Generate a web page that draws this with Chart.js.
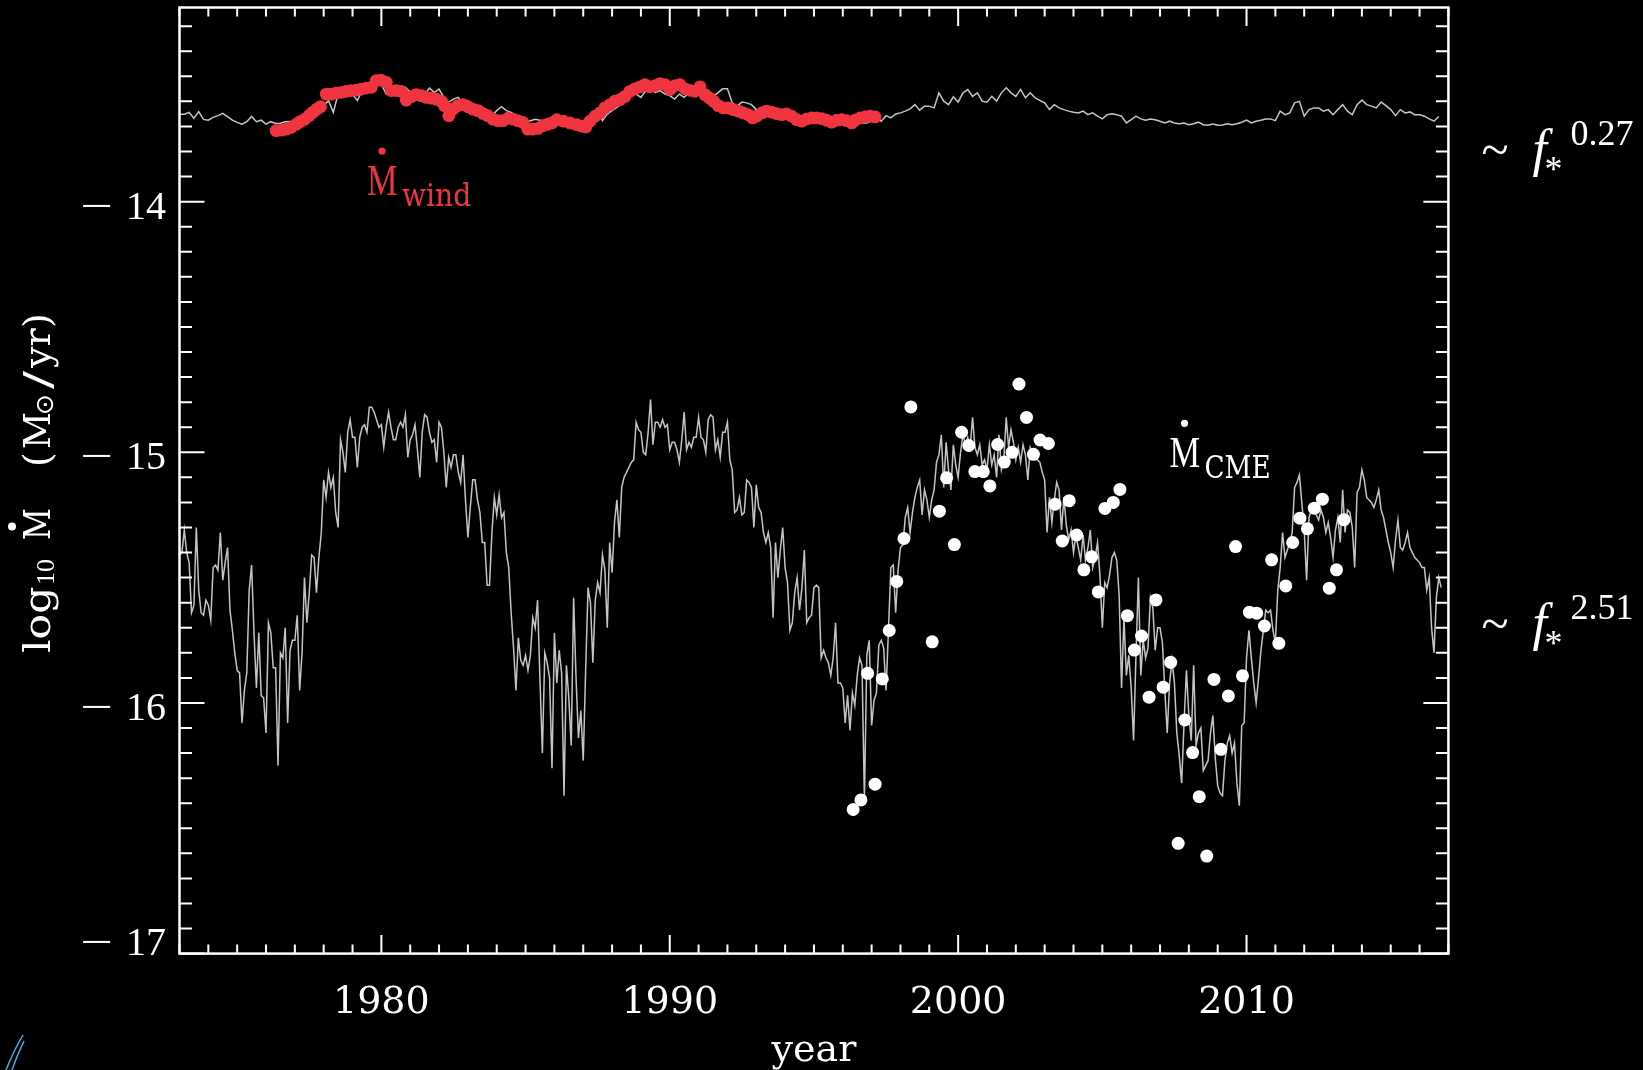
<!DOCTYPE html>
<html>
<head>
<meta charset="utf-8">
<script src="https://cdn.jsdelivr.net/npm/chart.js@4.4.1/dist/chart.umd.min.js"></script>
<style>
html,body{margin:0;padding:0;background:#000;overflow:hidden}
canvas{display:block}
</style>
</head>
<body>
<canvas id="c" width="1643" height="1070"></canvas>
<script>
// ---------------- axis ranges / ticks ----------------
const xRange = [1973, 2017];
const yRange = [-17, -13.2255];
const xMajorTicks = [1980, 1990, 2000, 2010];
const yMajorTicks = [-14, -15, -16, -17];
const xMinorStep = 1;     // years
const yMinorStep = 0.1;   // dex

// ---------------- model line for CME mass loss (~ f*^2.51), monthly from 1973.0 ----------------
const cmeModelStart = 1973;
const cmeModelStep = 1 / 12;
const cmeModel = [
 -15.41,-15.40,-15.31,-15.40,-15.44,-15.64,-15.61,-15.30,-15.55,-15.64,-15.65,-15.59, // 1973
 -15.61,-15.67,-15.46,-15.45,-15.47,-15.32,-15.51,-15.44,-15.38,-15.63,-15.71,-15.80, // 1974
 -15.87,-15.88,-16.08,-15.95,-15.88,-15.55,-15.45,-15.72,-15.94,-15.72,-15.97,-15.98, // 1975
 -16.12,-15.68,-15.72,-15.86,-15.86,-16.25,-15.80,-15.82,-15.70,-16.08,-15.79,-15.75, // 1976
 -15.75,-15.65,-15.95,-15.80,-15.50,-15.68,-15.56,-15.41,-15.42,-15.56,-15.42,-15.32, // 1977
 -15.11,-15.18,-15.08,-15.14,-15.10,-15.24,-15.30,-14.95,-15.00,-15.08,-14.92,-14.87, // 1978
 -14.94,-14.94,-15.06,-14.94,-14.90,-14.89,-14.92,-14.82,-14.82,-14.84,-14.87,-14.90, // 1979
 -14.89,-14.98,-14.90,-14.84,-14.90,-14.95,-14.95,-14.90,-14.88,-14.90,-14.85,-15.02, // 1980
 -14.95,-14.93,-14.89,-14.99,-15.10,-14.92,-14.85,-14.86,-14.92,-14.96,-14.95,-15.04, // 1981
 -14.88,-14.90,-15.00,-15.14,-15.02,-15.06,-15.01,-15.01,-15.08,-15.12,-15.01,-15.19, // 1982
 -15.34,-15.22,-15.11,-15.11,-15.19,-15.24,-15.36,-15.36,-15.53,-15.53,-15.32,-15.18, // 1983
 -15.25,-15.17,-15.26,-15.24,-15.40,-15.46,-15.64,-15.78,-15.95,-15.74,-15.83,-15.85, // 1984
 -15.81,-15.87,-15.81,-15.66,-15.70,-15.59,-15.91,-16.20,-15.80,-15.84,-15.90,-16.26, // 1985
 -15.72,-15.92,-15.79,-15.88,-16.37,-15.85,-15.98,-16.17,-15.58,-15.90,-16.14,-16.03, // 1986
 -16.23,-15.87,-15.54,-15.60,-15.84,-15.59,-15.52,-15.56,-15.41,-15.47,-15.70,-15.36, // 1987
 -15.48,-15.28,-15.19,-15.34,-15.14,-15.10,-15.08,-15.06,-15.04,-15.03,-14.88,-14.91, // 1988
 -14.92,-15.00,-15.01,-14.92,-14.79,-14.97,-14.88,-14.88,-14.90,-14.87,-14.90,-14.89, // 1989
 -14.99,-14.96,-14.96,-14.99,-15.04,-14.95,-14.84,-14.99,-14.96,-14.98,-14.94,-14.94, // 1990
 -14.86,-14.94,-14.95,-15.00,-14.87,-14.85,-14.86,-14.99,-14.95,-15.02,-14.92,-14.92, // 1991
 -14.88,-15.03,-15.07,-15.24,-15.23,-15.18,-15.25,-15.24,-15.11,-15.12,-15.14,-15.30, // 1992
 -15.13,-15.22,-15.24,-15.32,-15.36,-15.32,-15.38,-15.66,-15.36,-15.50,-15.39,-15.30, // 1993
 -15.46,-15.52,-15.71,-15.68,-15.56,-15.50,-15.63,-15.54,-15.39,-15.68,-15.66,-15.65, // 1994
 -15.54,-15.53,-15.54,-15.82,-15.79,-15.82,-15.84,-15.89,-15.82,-15.68,-15.92,-15.92, // 1995
 -15.94,-16.08,-15.97,-16.11,-15.96,-16.01,-15.89,-15.82,-15.85,-16.39,-15.81,-15.75, // 1996
 -16.09,-15.99,-15.96,-15.77,-15.75,-15.78,-15.95,-15.71,-15.46,-15.45,-15.64,-15.47, // 1997
 -15.38,-15.37,-15.26,-15.22,-15.32,-15.24,-15.18,-15.14,-15.11,-15.25,-15.15,-15.19, // 1998
 -15.26,-15.19,-15.15,-15.04,-15.01,-14.93,-15.14,-14.96,-15.07,-15.15,-14.97,-15.05, // 1999
 -15.10,-15.00,-14.93,-14.97,-14.94,-14.98,-14.86,-14.98,-15.01,-14.97,-15.05,-15.03, // 2000
 -15.07,-14.97,-15.05,-15.01,-15.10,-14.93,-15.07,-15.03,-14.86,-14.98,-14.91,-14.96, // 2001
 -15.03,-14.98,-15.04,-14.97,-15.01,-15.11,-14.98,-15.00,-15.01,-15.03,-15.04,-15.08, // 2002
 -15.11,-15.32,-15.18,-15.28,-15.19,-15.12,-15.15,-15.31,-15.18,-15.29,-15.35,-15.31, // 2003
 -15.40,-15.33,-15.38,-15.43,-15.33,-15.43,-15.38,-15.31,-15.46,-15.42,-15.36,-15.49, // 2004
 -15.70,-15.52,-15.54,-15.49,-15.42,-15.40,-15.43,-15.57,-15.94,-15.66,-15.89,-15.81, // 2005
 -15.94,-16.15,-15.81,-15.50,-15.89,-15.75,-15.82,-15.78,-15.58,-15.62,-15.79,-15.70, // 2006
 -15.70,-15.76,-15.95,-16.12,-15.92,-15.83,-15.92,-16.12,-16.21,-16.32,-16.08,-15.87, // 2007
 -16.05,-16.15,-15.85,-16.17,-16.12,-16.10,-16.27,-16.25,-16.23,-16.12,-16.05,-16.22, // 2008
 -16.33,-16.36,-16.37,-16.23,-16.16,-16.13,-16.20,-16.16,-16.32,-16.41,-16.09,-16.08, // 2009
 -15.82,-15.71,-15.82,-15.92,-16.00,-15.90,-15.79,-15.71,-15.63,-15.64,-15.63,-15.71, // 2010
 -15.76,-15.55,-15.46,-15.32,-15.42,-15.39,-15.36,-15.32,-15.14,-15.12,-15.09,-15.20, // 2011
 -15.31,-15.51,-15.26,-15.23,-15.22,-15.25,-15.27,-15.23,-15.26,-15.32,-15.28,-15.34, // 2012
 -15.42,-15.31,-15.26,-15.36,-15.15,-15.32,-15.23,-15.24,-15.30,-15.46,-15.16,-15.14, // 2013
 -15.07,-15.11,-15.18,-15.19,-15.20,-15.22,-15.19,-15.15,-15.23,-15.26,-15.31,-15.36, // 2014
 -15.40,-15.46,-15.35,-15.27,-15.38,-15.39,-15.36,-15.32,-15.38,-15.40,-15.42,-15.43, // 2015
 -15.44,-15.46,-15.46,-15.55,-15.50,-15.70,-15.80,-15.58,-15.50,-15.54                // 2016
];

// ---------------- model line for wind mass loss (~ f*^0.27), every 2 months from 1973.0 ----------------
const windModelStart = 1973;
const windModelStep = 1 / 6;
const windModel = [
 -13.651,-13.651,-13.644,-13.667,-13.641,-13.672, // 1973
 -13.675,-13.664,-13.657,-13.648,-13.661,-13.675, // 1974
 -13.684,-13.691,-13.681,-13.660,-13.681,-13.675, // 1975
 -13.691,-13.681,-13.688,-13.687,-13.681,-13.680, // 1976
 -13.681,-13.676,-13.668,-13.650,-13.645,-13.628, // 1977
 -13.617,-13.597,-13.644,-13.571,-13.584,-13.564, // 1978
 -13.571,-13.597,-13.557,-13.551,-13.544,-13.511, // 1979
 -13.531,-13.571,-13.564,-13.571,-13.564,-13.544, // 1980
 -13.564,-13.557,-13.564,-13.571,-13.547,-13.564, // 1981
 -13.551,-13.584,-13.604,-13.591,-13.584,-13.611, // 1982
 -13.597,-13.624,-13.617,-13.624,-13.651,-13.657, // 1983
 -13.637,-13.621,-13.637,-13.644,-13.657,-13.671, // 1984
 -13.684,-13.677,-13.671,-13.675,-13.677,-13.684, // 1985
 -13.671,-13.675,-13.677,-13.684,-13.697,-13.704, // 1986
 -13.684,-13.664,-13.657,-13.637,-13.677,-13.651, // 1987
 -13.637,-13.624,-13.611,-13.591,-13.577,-13.571, // 1988
 -13.584,-13.557,-13.551,-13.564,-13.557,-13.571, // 1989
 -13.577,-13.591,-13.571,-13.584,-13.564,-13.571, // 1990
 -13.575,-13.546,-13.560,-13.580,-13.566,-13.550, // 1991
 -13.550,-13.606,-13.619,-13.603,-13.606,-13.613, // 1992
 -13.633,-13.633,-13.646,-13.653,-13.655,-13.653, // 1993
 -13.659,-13.662,-13.666,-13.670,-13.670,-13.672, // 1994
 -13.673,-13.675,-13.675,-13.676,-13.673,-13.675, // 1995
 -13.675,-13.677,-13.679,-13.681,-13.686,-13.686, // 1996
 -13.679,-13.666,-13.679,-13.657,-13.666,-13.650, // 1997
 -13.646,-13.639,-13.630,-13.613,-13.635,-13.619, // 1998
 -13.619,-13.626,-13.566,-13.599,-13.613,-13.582, // 1999
 -13.603,-13.566,-13.553,-13.580,-13.566,-13.599, // 2000
 -13.603,-13.580,-13.599,-13.566,-13.546,-13.566, // 2001
 -13.580,-13.552,-13.586,-13.566,-13.586,-13.596, // 2002
 -13.606,-13.633,-13.613,-13.626,-13.633,-13.639, // 2003
 -13.643,-13.646,-13.639,-13.653,-13.646,-13.659, // 2004
 -13.670,-13.653,-13.649,-13.653,-13.659,-13.686, // 2005
 -13.673,-13.659,-13.670,-13.675,-13.670,-13.673, // 2006
 -13.679,-13.686,-13.679,-13.686,-13.689,-13.686, // 2007
 -13.693,-13.689,-13.683,-13.693,-13.695,-13.690, // 2008
 -13.695,-13.694,-13.689,-13.693,-13.689,-13.683, // 2009
 -13.675,-13.686,-13.679,-13.675,-13.670,-13.670, // 2010
 -13.677,-13.639,-13.653,-13.646,-13.606,-13.600, // 2011
 -13.659,-13.633,-13.626,-13.626,-13.639,-13.633, // 2012
 -13.653,-13.633,-13.613,-13.639,-13.653,-13.613, // 2013
 -13.595,-13.613,-13.619,-13.626,-13.603,-13.617, // 2014
 -13.633,-13.657,-13.633,-13.646,-13.642,-13.653, // 2015
 -13.653,-13.659,-13.670,-13.679,-13.660          // 2016
];

// ---------------- observed wind mass loss (red dots) ----------------
const windObsYears = [
 1976.35,1976.53,1976.70,1976.87,1977.05,1977.18,1977.34,1977.49,1977.62,1977.76,1977.89,
 1978.09,1978.26,1978.43,1978.61,1978.78,1978.95,1979.13,1979.30,1979.47,1979.65,1979.82,1979.99,
 1980.17,1980.34,1980.51,1980.69,1980.86,1981.03,1981.21,1981.38,1981.55,1981.73,1981.90,
 1982.08,1982.19,1982.34,1982.48,1982.65,1982.83,1983.00,1983.17,1983.35,1983.52,1983.69,1983.87,
 1984.04,1984.21,1984.39,1984.56,1984.73,1984.91,1985.08,1985.25,1985.43,1985.60,1985.77,1985.91,
 1986.08,1986.31,1986.54,1986.77,1986.95,1987.09,1987.23,1987.41,1987.58,1987.75,1987.93,
 1988.10,1988.27,1988.45,1988.62,1988.79,1988.97,1989.14,1989.31,1989.49,1989.66,1989.83,
 1990.01,1990.18,1990.35,1990.53,1990.70,1990.87,1991.05,1991.22,1991.37,1991.51,1991.68,1991.86,
 1992.03,1992.20,1992.38,1992.55,1992.72,1992.87,1993.01,1993.19,1993.36,1993.53,1993.71,1993.88,
 1994.05,1994.23,1994.40,1994.57,1994.75,1994.92,1995.09,1995.27,1995.44,1995.61,1995.79,1995.96,
 1996.13,1996.31,1996.42,1996.60,1996.77,1996.94,1997.12
];
const windObsValues = [
 -13.717,-13.715,-13.711,-13.704,-13.691,-13.681,-13.671,-13.657,-13.644,-13.631,-13.621,
 -13.571,-13.571,-13.567,-13.564,-13.560,-13.557,-13.555,-13.551,-13.547,-13.544,-13.517,-13.515,
 -13.524,-13.557,-13.557,-13.560,-13.595,-13.581,-13.573,-13.577,-13.584,-13.587,-13.591,
 -13.600,-13.617,-13.657,-13.631,-13.617,-13.613,-13.621,-13.631,-13.637,-13.648,-13.657,-13.671,
 -13.677,-13.677,-13.667,-13.671,-13.677,-13.684,-13.711,-13.711,-13.708,-13.697,-13.691,-13.686,
 -13.673,-13.679,-13.686,-13.693,-13.699,-13.702,-13.679,-13.659,-13.646,-13.626,-13.613,
 -13.599,-13.593,-13.580,-13.560,-13.550,-13.542,-13.533,-13.542,-13.537,-13.529,-13.533,
 -13.553,-13.537,-13.533,-13.550,-13.556,-13.560,-13.542,-13.573,-13.586,-13.599,-13.617,-13.626,
 -13.626,-13.633,-13.639,-13.646,-13.653,-13.666,-13.659,-13.646,-13.639,-13.643,-13.649,-13.653,
 -13.650,-13.659,-13.673,-13.679,-13.670,-13.666,-13.666,-13.669,-13.675,-13.683,-13.675,-13.673,
 -13.677,-13.686,-13.675,-13.666,-13.662,-13.659,-13.662
];

// ---------------- observed CME mass loss (white dots) ----------------
const cmeObsYears = [
 1996.36,1996.63,1996.86,1997.12,1997.37,1997.61,1997.87,1998.12,1998.36,1999.10,1999.35,1999.60,1999.87,
 2000.12,2000.37,2000.58,2000.87,2001.10,2001.37,2001.60,2001.87,2002.11,2002.37,2002.61,2002.84,
 2003.13,2003.36,2003.61,2003.85,2004.11,2004.36,2004.63,2004.86,2005.09,2005.38,2005.61,2005.87,
 2006.11,2006.36,2006.62,2006.86,2007.11,2007.37,2007.63,2007.86,2008.13,2008.36,2008.62,2008.87,
 2009.11,2009.37,2009.62,2009.86,2010.10,2010.35,2010.62,2010.87,2011.12,2011.36,2011.60,2011.85,
 2012.11,2012.35,2012.63,2012.87,2013.12,2013.38
];
const cmeObsValues = [
 -16.425,-16.387,-15.882,-16.324,-15.904,-15.711,-15.515,-15.344,-14.819,-15.756,-15.235,-15.102,-15.368,
 -14.920,-14.973,-15.077,-15.077,-15.134,-14.969,-15.039,-15.000,-14.728,-14.861,-15.008,-14.951,
 -14.965,-15.207,-15.354,-15.193,-15.330,-15.469,-15.417,-15.557,-15.224,-15.200,-15.148,-15.652,
 -15.789,-15.733,-15.977,-15.589,-15.937,-15.838,-16.560,-16.068,-16.198,-16.374,-16.611,-15.906,
 -16.185,-15.972,-15.376,-15.892,-15.638,-15.642,-15.693,-15.429,-15.762,-15.533,-15.360,-15.263,
 -15.305,-15.223,-15.187,-15.542,-15.469,-15.269
];

// ---------------- annotation anchors (data coordinates) ----------------
const windLabelAt = {x: 1979.50, y: -13.974};
const cmeLabelAt  = {x: 2007.33, y: -15.060};
const scalingLabels = [{exp: '0.27', y: -13.858}, {exp: '2.51', y: -15.750}];

// ---------------- styling ----------------
const RED = 'rgb(240,52,64)';
const GREY = '#c4c4c4';
const TIMES = '"Liberation Serif","Times New Roman",serif';
const TIMES_I = 'italic ';
const HERSHEY = '"DejaVu Serif",serif';

const modelPts = (start, step, vals) => vals.map((v, i) => ({x: start + i * step, y: v}));
const obsPts = (xs, ys) => xs.map((x, i) => ({x: x, y: ys[i]}));

function txt(ctx, s, x, y, font, color, align, sx) {
  ctx.save();
  ctx.font = font;
  ctx.fillStyle = color;
  ctx.textAlign = align || 'left';
  ctx.textBaseline = 'alphabetic';
  ctx.translate(x, y);
  ctx.scale(sx || 1, 1);
  ctx.fillText(s, 0, 0);
  ctx.restore();
}

function dotAccent(ctx, x, y, r, color) {
  ctx.save();
  ctx.fillStyle = color;
  ctx.beginPath();
  ctx.arc(x, y, r, 0, Math.PI * 2);
  ctx.fill();
  ctx.restore();
}

const idlPlugin = {
  id: 'idlFrame',
  beforeDraw(chart) {
    const ctx = chart.ctx;
    ctx.save();
    ctx.fillStyle = '#000';
    ctx.fillRect(0, 0, chart.width, chart.height);
    ctx.restore();
  },
  afterDraw(chart) {
    const ctx = chart.ctx;
    const a = chart.chartArea;
    const xs = chart.scales.x, ys = chart.scales.y;

    // frame
    ctx.save();
    ctx.strokeStyle = '#fff';
    ctx.lineWidth = 2.5;
    ctx.strokeRect(a.left, a.top, a.right - a.left, a.bottom - a.top);

    // inward tick marks
    ctx.lineWidth = 2;
    ctx.beginPath();
    for (let yr = xRange[0]; yr <= xRange[1] + 1e-9; yr += xMinorStep) {
      const px = xs.getPixelForValue(yr);
      const len = xMajorTicks.includes(yr) ? 18.5 : 9;
      ctx.moveTo(px, a.bottom); ctx.lineTo(px, a.bottom - len);
      ctx.moveTo(px, a.top); ctx.lineTo(px, a.top + len);
    }
    const kMin = Math.round(yRange[0] / yMinorStep), kMax = Math.floor(yRange[1] / yMinorStep + 1e-9);
    for (let k = kMin; k <= kMax; k++) {
      const v = k * yMinorStep;
      const py = ys.getPixelForValue(v);
      const len = (k % 10 === 0) ? 25 : 12.5;
      ctx.moveTo(a.left, py); ctx.lineTo(a.left + len, py);
      ctx.moveTo(a.right, py); ctx.lineTo(a.right - len, py);
    }
    ctx.stroke();
    ctx.restore();

    // x tick labels
    xMajorTicks.forEach(yr => {
      txt(ctx, String(yr), xs.getPixelForValue(yr), a.bottom + 59.4, '38px ' + HERSHEY, '#fff', 'center');
    });
    // y tick labels
    yMajorTicks.forEach(v => {
      const py = ys.getPixelForValue(v);
      const base = (v === yRange[0]) ? py + 1.5 : py + 17;
      txt(ctx, String(Math.abs(v)), a.left - 13.5, base, '40px ' + TIMES, '#fff', 'right');
      txt(ctx, '\u2212', a.left - 66.5, base, '40px ' + TIMES, '#fff', 'right', 1.45);
    });

    // x title
    txt(ctx, 'year', (a.left + a.right) / 2, a.bottom + 107.4, '38px ' + HERSHEY, '#fff', 'center');

    // y title (rotated): log10 M-dot (M_sun/yr)
    ctx.save();
    ctx.translate(a.left - 129.5, (a.top + a.bottom) / 2 + 174.5);
    ctx.rotate(-Math.PI / 2);
    txt(ctx, 'log', 2, 0, '38px ' + HERSHEY, '#fff', 'left', 1.12);
    txt(ctx, '10', 70, 4, '26px ' + TIMES, '#fff');
    txt(ctx, 'M', 115, 0, '38px ' + HERSHEY, '#fff', 'left', 0.82);
    dotAccent(ctx, 128.5, -38, 4, '#fff');
    txt(ctx, '(', 188, 0, '38px ' + HERSHEY, '#fff');
    txt(ctx, 'M', 206, 0, '38px ' + HERSHEY, '#fff', 'left', 0.95);
    txt(ctx, '\u2299', 240, 3, '25px "DejaVu Sans",sans-serif', '#fff');
    txt(ctx, '/', 266, 0, '38px ' + HERSHEY, '#fff', 'left', 1.4);
    txt(ctx, 'yr', 287, 0, '38px ' + HERSHEY, '#fff');
    txt(ctx, ')', 327, 0, '38px ' + HERSHEY, '#fff');
    ctx.restore();

    // scaling labels on the right:  ~ f_*^exp
    scalingLabels.forEach(lab => {
      const b = ys.getPixelForValue(lab.y);
      const r = a.right;
      txt(ctx, '~', r + 33, b, '50px ' + TIMES, '#fff');
      txt(ctx, 'f', r + 84, b, TIMES_I + '52px ' + TIMES, '#fff');
      txt(ctx, '*', r + 96, b + 15, '36px ' + TIMES, '#fff');
      txt(ctx, lab.exp, r + 122, b - 21, '36px ' + TIMES, '#fff');
    });

    // series annotations: M-dot_wind (red), M-dot_CME (white)
    [[windLabelAt, 'wind', RED, 0.88], [cmeLabelAt, 'CME', '#fff', 0.82]].forEach(([p, sub, col, sx]) => {
      const px = xs.getPixelForValue(p.x), py = ys.getPixelForValue(p.y);
      txt(ctx, 'M', px, py, '44px ' + TIMES, col, 'left', 0.78);
      dotAccent(ctx, px + 15, py - 44, 3.6, col);
      txt(ctx, sub, px + 35, py + 11, '32px ' + HERSHEY, col, 'left', sx);
    });

    // small cyan pen mark in the lower-left corner of the picture
    ctx.save();
    ctx.strokeStyle = 'rgb(70,185,240)';
    ctx.lineWidth = 1.4;
    ctx.beginPath();
    ctx.moveTo(23, 1035); ctx.quadraticCurveTo(14, 1050, 6, 1070);
    ctx.moveTo(24, 1041); ctx.quadraticCurveTo(17, 1055, 12, 1070);
    ctx.stroke();
    ctx.restore();
  }
};

new Chart(document.getElementById('c'), {
  type: 'scatter',
  data: {
    datasets: [
      {
        label: 'wind observed',
        data: obsPts(windObsYears, windObsValues),
        showLine: false, pointRadius: 6.4, pointBorderWidth: 0,
        pointBackgroundColor: RED, backgroundColor: RED, borderColor: RED, order: 0
      },
      {
        label: 'CME observed',
        data: obsPts(cmeObsYears, cmeObsValues),
        showLine: false, pointRadius: 6.5, pointBorderWidth: 0,
        pointBackgroundColor: '#fff', backgroundColor: '#fff', borderColor: '#fff', order: 0
      },
      {
        label: 'wind model',
        data: modelPts(windModelStart, windModelStep, windModel),
        showLine: true, pointRadius: 0, borderWidth: 1.5, borderColor: GREY,
        tension: 0, fill: false, order: 1
      },
      {
        label: 'CME model',
        data: modelPts(cmeModelStart, cmeModelStep, cmeModel),
        showLine: true, pointRadius: 0, borderWidth: 1.5, borderColor: GREY,
        tension: 0, fill: false, order: 1
      }
    ]
  },
  options: {
    responsive: false,
    devicePixelRatio: 1,
    animation: false,
    events: [],
    layout: { padding: { left: 179.5, right: 194.6, top: 7.5, bottom: 116.4 } },
    scales: {
      x: { type: 'linear', min: xRange[0], max: xRange[1], display: false },
      y: { type: 'linear', min: yRange[0], max: yRange[1], display: false }
    },
    plugins: { legend: { display: false }, tooltip: { enabled: false }, title: { display: false } }
  },
  plugins: [idlPlugin]
});
</script>
</body>
</html>
